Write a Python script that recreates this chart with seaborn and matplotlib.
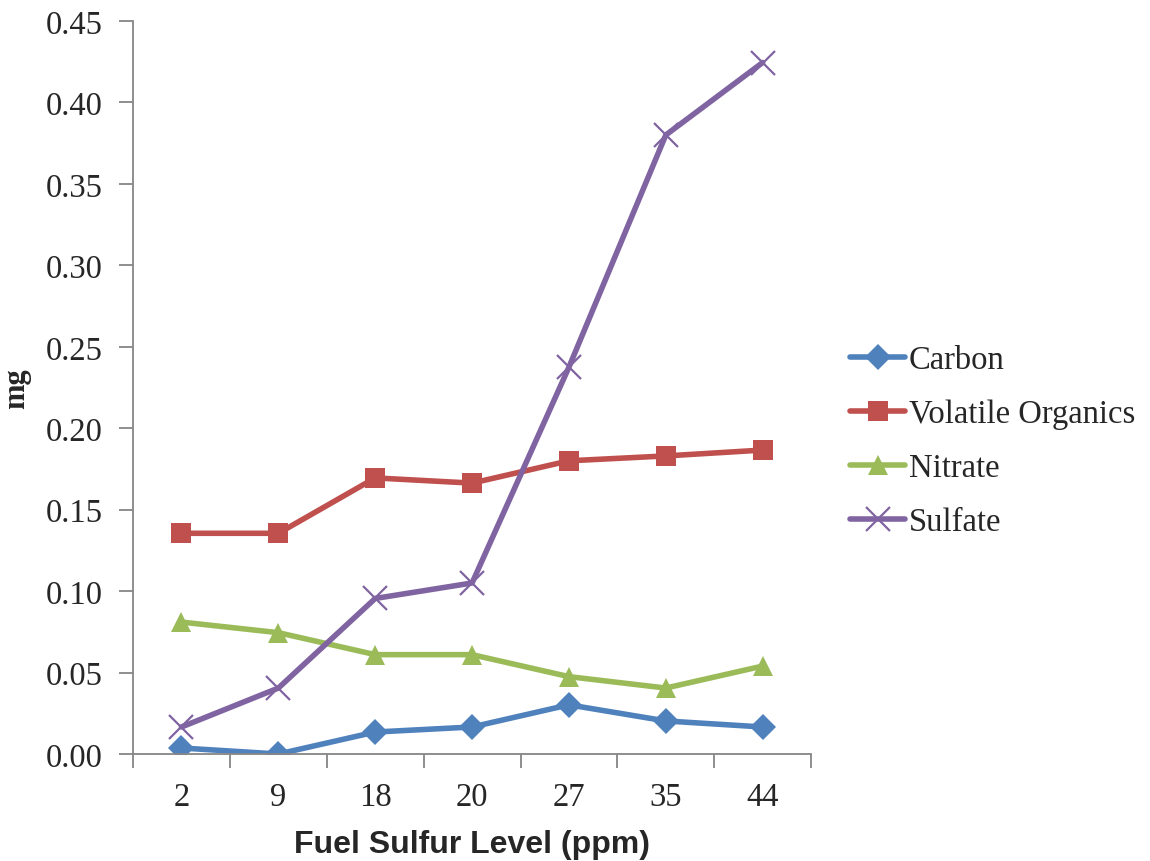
"""
plot.py
-------
Particulate composition vs fuel sulfur level, drawn as line chart.
"""

import matplotlib
matplotlib.use("Agg")
import matplotlib.pyplot as plt
import numpy as np
import pandas as pd
import seaborn as sns
from matplotlib.ticker import FixedLocator, NullFormatter

# --- data ---
sulfur_levels = ["2", "9", "18", "20", "27", "35", "44"]
carbon = [0.0037, 0.0000, 0.0135, 0.0166, 0.0302, 0.0203, 0.0166]
volatile_organics = [0.1355, 0.1355, 0.1695, 0.1663, 0.1800, 0.1830, 0.1866]
nitrate = [0.0810, 0.0745, 0.0610, 0.0610, 0.0475, 0.0405, 0.0540]
sulfate = [0.0166, 0.0405, 0.0955, 0.1050, 0.2375, 0.3800, 0.4245]

series_names = ["Carbon", "Volatile Organics", "Nitrate", "Sulfate"]
series_values = [carbon, volatile_organics, nitrate, sulfate]
colors = ["#4F81BD", "#C0504D", "#9BBB59", "#8064A2"]
markers = ["D", "s", "^", "x"]
marker_sizes = [13, 15, 15, 17]

sns.set_theme(style="white")
plt.rcParams["font.family"] = ["Liberation Serif", "DejaVu Serif"]

# long-form table for seaborn
rows = []
for name, vals in zip(series_names, series_values):
    for i, (lvl, v) in enumerate(zip(sulfur_levels, vals)):
        rows.append({"pos": i, "level": lvl, "series": name, "mg": v})
df = pd.DataFrame(rows)

fig = plt.figure(figsize=(11.5, 8.62), dpi=100)
ax = fig.add_axes([0.1157, 0.1241, 0.5896, 0.8504])

for name, color, mk, ms in zip(series_names, colors, markers, marker_sizes):
    sub = df[df["series"] == name]
    sns.lineplot(
        data=sub, x="pos", y="mg", ax=ax, color=color, linewidth=4.0,
        marker=mk, markersize=ms, markeredgewidth=1.6 if mk == "x" else 0,
        markeredgecolor=color, label=name, legend=False,
    )

n = len(sulfur_levels)
ax.set_xlim(-0.5, n - 0.5)
ax.set_ylim(0, 0.45)
ax.set_yticks(np.arange(0, 0.451, 0.05))
ax.set_yticklabels([f"{t:.2f}" for t in np.arange(0, 0.451, 0.05)], fontsize=23.5)

# category boundaries carry the tick marks, labels sit in between
ax.xaxis.set_major_locator(FixedLocator(np.arange(-0.5, n, 1.0)))
ax.xaxis.set_major_formatter(NullFormatter())
ax.xaxis.set_minor_locator(FixedLocator(np.arange(n)))
ax.set_xticklabels(sulfur_levels, minor=True, fontsize=23.5)
ax.tick_params(axis="x", which="major", length=10, width=1.3, color="#868686", direction="out", bottom=True)
ax.tick_params(axis="x", which="minor", length=0, pad=20)
ax.tick_params(axis="y", length=10, width=1.3, color="#868686", direction="out", left=True, pad=12)

for side in ["top", "right"]:
    ax.spines[side].set_visible(False)
for side in ["left", "bottom"]:
    ax.spines[side].set_color("#868686")
    ax.spines[side].set_linewidth(1.3)

ax.set_xlabel("Fuel Sulfur Level (ppm)", fontsize=23, fontweight="bold",
              family=["Liberation Sans", "DejaVu Sans"], labelpad=12)
ax.set_ylabel("mg", fontsize=22, fontweight="bold", labelpad=10)
ax.grid(False)

ax.legend(
    loc="center left", bbox_to_anchor=(0.739, 0.487), bbox_transform=fig.transFigure,
    frameon=False, fontsize=23.5, handlelength=1.7, handletextpad=0.1,
    labelspacing=0.72, borderpad=0, borderaxespad=0,
)

fig.savefig("out.png", dpi=100)
plt.close(fig)
